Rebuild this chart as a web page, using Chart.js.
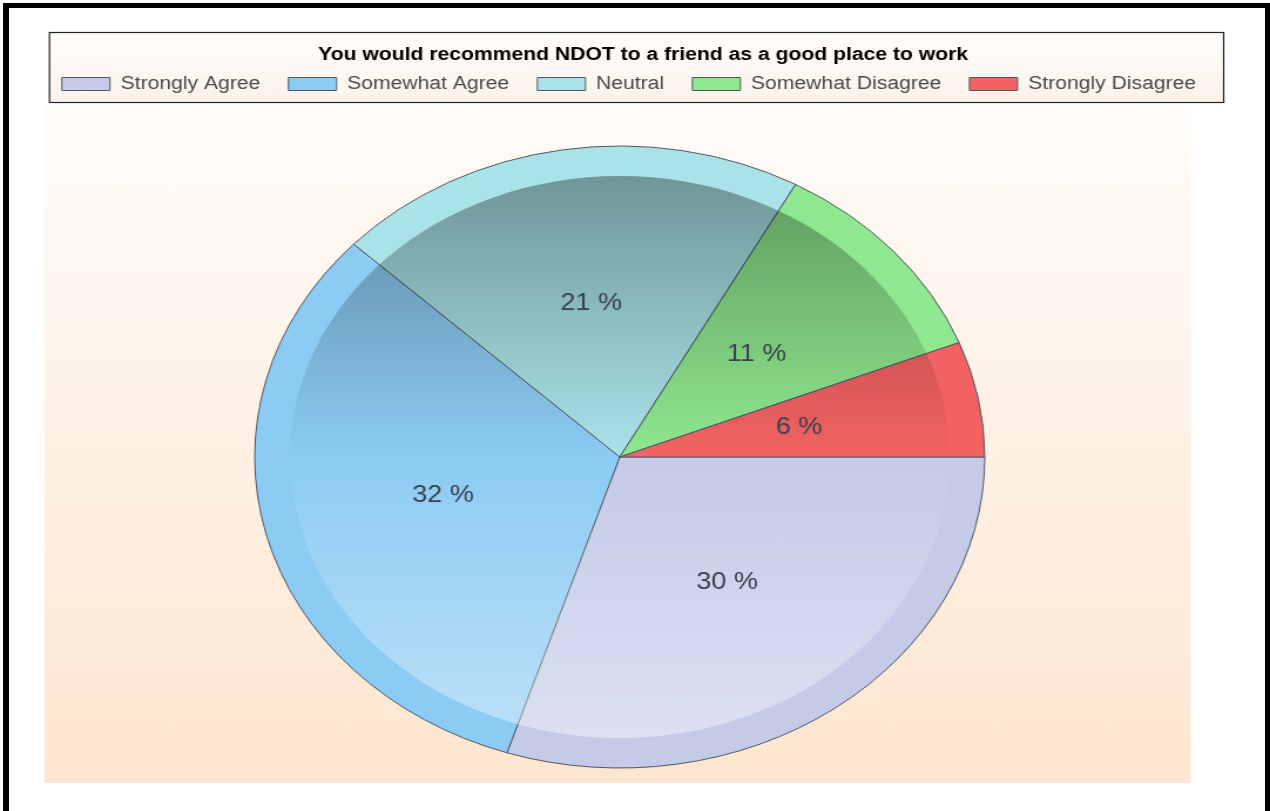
<!DOCTYPE html>
<html>
<head>
<meta charset="utf-8">
<script src="https://cdn.jsdelivr.net/npm/chart.js@4.4.1/dist/chart.umd.min.js"></script>
<style>
  html, body { margin: 0; padding: 0; background: #fff; overflow: hidden; }
  /* the original picture is stretched sideways, so the whole chart is drawn narrow and widened */
  #wrap { position: absolute; left: 0; top: 0; width: 1082px; height: 811px; transform: scaleX(1.17375); transform-origin: 0 0; }
  #frame { position: absolute; left: 3px; top: 3px; width: 1267px; height: 830px; box-sizing: border-box;
           border: solid #000; border-width: 5px 5px 0 6px; pointer-events: none; }
</style>
</head>
<body>
<div id="wrap"><canvas id="myChart"></canvas></div>
<div id="frame"></div>
<script>
const ctx = document.getElementById('myChart');

const chartTitle = 'You would recommend NDOT to a friend as a good place to work';
const answers = ['Strongly Agree', 'Somewhat Agree', 'Neutral', 'Somewhat Disagree', 'Strongly Disagree'];
const percents = [30, 32, 21, 11, 6];
const sliceColors = ['#c4cae8', '#8ccbf3', '#a9e3e8', '#8fe88f', '#f26262'];

const FONT = "'Liberation Sans', Arial, sans-serif";

// peach backdrop + framed legend box
const backdrop = {
  id: 'backdrop',
  beforeDraw(chart) {
    const c = chart.ctx;
    const arc = chart.getDatasetMeta(0).data[0];
    const R = arc.outerRadius;
    c.save();
    c.fillStyle = '#ffffff';
    c.fillRect(0, 0, chart.width, chart.height);

    const top = chart.legend.bottom + 2;
    const bottom = arc.y + R + 15;
    const g = c.createLinearGradient(0, top, 0, bottom);
    g.addColorStop(0, '#fffcf9');
    g.addColorStop(1, '#fde6cf');
    c.fillStyle = g;
    c.fillRect(arc.x - R * 1.576, top, R * 3.14, bottom - top);

    const lg = chart.legend;
    const bx = lg.legendHitBoxes[0].left - 11;
    const lgGrad = c.createLinearGradient(0, lg.top, 0, lg.bottom);
    lgGrad.addColorStop(0, '#fffdfb');
    lgGrad.addColorStop(1, '#fbf3ea');
    c.fillStyle = lgGrad;
    c.fillRect(bx, lg.top, lg.right - bx, lg.bottom - lg.top);
    c.strokeStyle = '#222';
    c.lineWidth = 1.2;
    c.strokeRect(bx + 0.5, lg.top + 0.5, lg.right - bx - 1, lg.bottom - lg.top - 1);
    c.restore();
  }
};

// darker top / lighter bottom inside the pie, and the percent labels
const pieDecor = {
  id: 'pieDecor',
  afterDatasetsDraw(chart) {
    const c = chart.ctx;
    const arcs = chart.getDatasetMeta(0).data;
    const cx = arcs[0].x, cy = arcs[0].y, R = arcs[0].outerRadius;
    const r2 = R - 30;
    c.save();
    c.beginPath();
    c.arc(cx, cy, R, 0, Math.PI * 2);
    c.clip();
    const g = c.createLinearGradient(0, cy - r2, 0, cy + r2);
    g.addColorStop(0, 'rgba(0,0,0,0.34)');
    g.addColorStop(0.5, 'rgba(0,0,0,0)');
    g.addColorStop(0.5, 'rgba(255,255,255,0)');
    g.addColorStop(1, 'rgba(255,255,255,0.42)');
    c.fillStyle = g;
    c.beginPath();
    c.arc(cx, cy, r2, 0, Math.PI * 2);
    c.fill();
    c.restore();

    c.save();
    c.font = '23px ' + FONT;
    c.fillStyle = '#38424c';
    c.textAlign = 'center';
    c.textBaseline = 'middle';
    arcs.forEach((a, i) => {
      const mid = (a.startAngle + a.endAngle) / 2;
      const x = a.x + Math.cos(mid) * a.outerRadius * 0.5;
      const y = a.y + Math.sin(mid) * a.outerRadius * 0.5;
      c.fillText(percents[i] + ' %', x, y);
    });
    c.restore();
  }
};

new Chart(ctx, {
  type: 'pie',
  data: {
    labels: answers,
    datasets: [{
      data: percents,
      backgroundColor: sliceColors,
      borderColor: '#505862',
      borderWidth: 1,
      radius: 311
    }]
  },
  options: {
    responsive: true,
    maintainAspectRatio: false,
    animation: false,
    rotation: 90,
    layout: { padding: { top: 32, bottom: -4, left: 13, right: 39 } },
    plugins: {
      tooltip: { enabled: false },
      legend: {
        position: 'top',
        align: 'end',
        title: {
          display: true,
          text: chartTitle,
          color: '#000',
          font: { family: FONT, size: 18, weight: 'bold' },
          padding: { top: 14, bottom: -16.6 }
        },
        labels: {
          boxWidth: 41,
          boxHeight: 13,
          padding: 24,
          color: '#4a4a4a',
          font: { family: FONT, size: 18 }
        }
      }
    }
  },
  plugins: [backdrop, pieDecor]
});
</script>
</body>
</html>
